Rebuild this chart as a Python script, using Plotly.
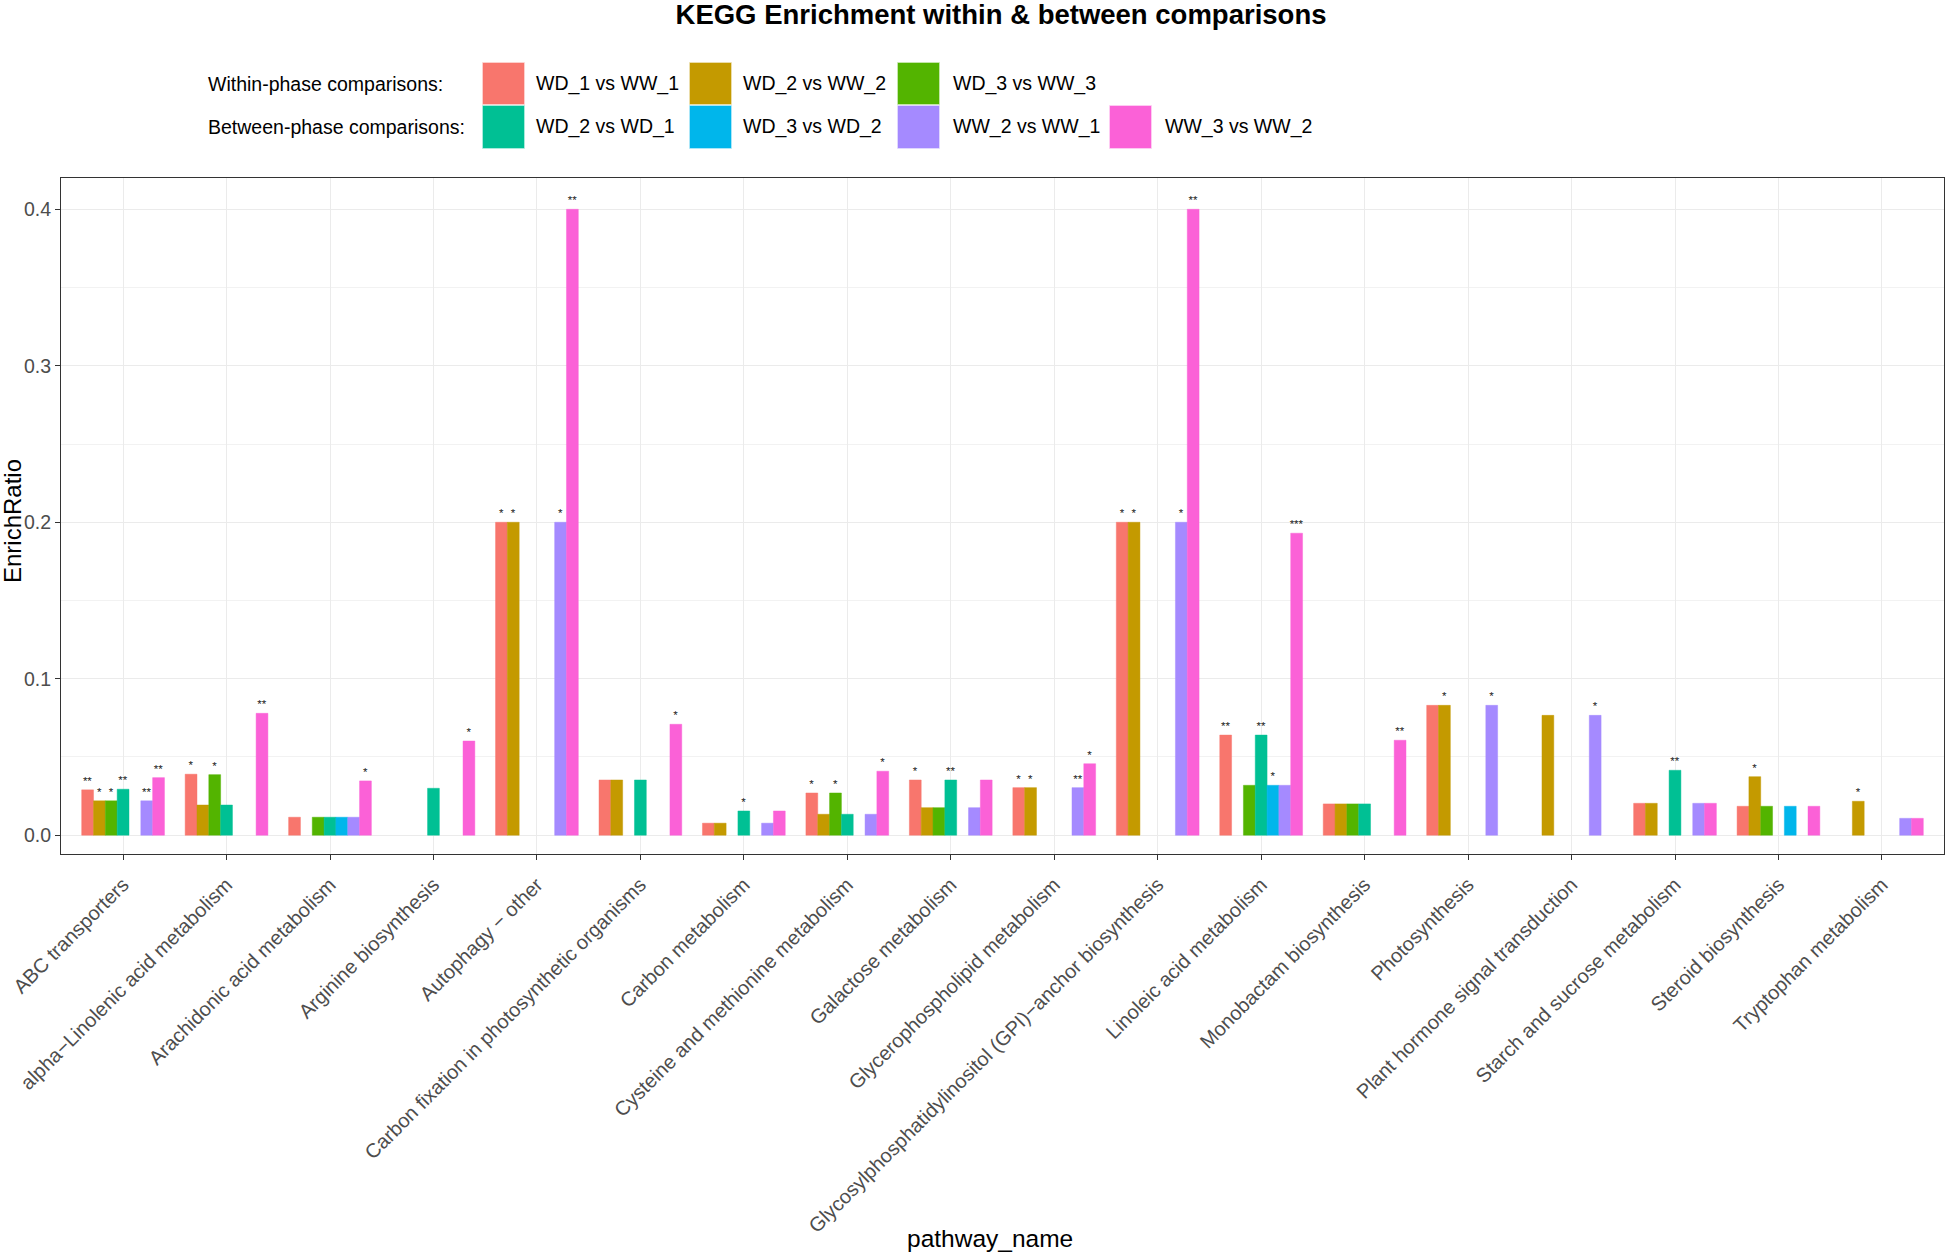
import plotly.graph_objects as go

# ---------------- data ----------------
categories = [
    "ABC transporters",
    "alpha\u2212Linolenic acid metabolism",
    "Arachidonic acid metabolism",
    "Arginine biosynthesis",
    "Autophagy \u2212 other",
    "Carbon fixation in photosynthetic organisms",
    "Carbon metabolism",
    "Cysteine and methionine metabolism",
    "Galactose metabolism",
    "Glycerophospholipid metabolism",
    "Glycosylphosphatidylinositol (GPI)\u2212anchor biosynthesis",
    "Linoleic acid metabolism",
    "Monobactam biosynthesis",
    "Photosynthesis",
    "Plant hormone signal transduction",
    "Starch and sucrose metabolism",
    "Steroid biosynthesis",
    "Tryptophan metabolism",
]

series_names = [
    "WD_1 vs WW_1", "WD_2 vs WW_2", "WD_3 vs WW_3",
    "WD_2 vs WD_1", "WD_3 vs WD_2", "WW_2 vs WW_1", "WW_3 vs WW_2",
]

wd1_vs_ww1 = [0.029, 0.039, 0.0115, None, 0.2, 0.0353, 0.0077, 0.027, 0.0353, 0.0304, 0.2, 0.064, 0.020, 0.083, None, 0.0204, 0.0185, None]
wd2_vs_ww2 = [0.022, 0.0193, None, None, 0.2, 0.0353, 0.0077, 0.0134, 0.0176, 0.0304, 0.2, None, 0.020, 0.083, 0.0766, 0.0204, 0.0374, 0.0217]
wd3_vs_ww3 = [0.022, 0.0387, 0.0115, None, None, None, None, 0.027, 0.0176, None, None, 0.0319, 0.020, None, None, None, 0.0185, None]
wd2_vs_wd1 = [0.0294, 0.0193, 0.0115, 0.030, None, 0.0353, 0.0155, 0.0134, 0.0353, None, None, 0.064, 0.020, None, None, 0.0415, None, None]
wd3_vs_wd2 = [None, None, 0.0115, None, None, None, None, None, None, None, None, 0.0319, None, None, None, None, 0.0185, None]
ww2_vs_ww1 = [0.022, None, 0.0115, None, 0.2, None, 0.0077, 0.0134, 0.0176, 0.0304, 0.2, 0.0319, None, 0.083, 0.0766, 0.0204, None, 0.0108]
ww3_vs_ww2 = [0.0368, 0.0779, 0.0347, 0.0602, 0.4, 0.0709, 0.0155, 0.0409, 0.0353, 0.0457, 0.4, 0.193, 0.0607, None, None, 0.0204, 0.0185, 0.0108]

sig_wd1_vs_ww1 = ["**", "*", "", "", "*", "", "", "*", "*", "*", "*", "**", "", "", "", "", "", ""]
sig_wd2_vs_ww2 = ["*", "", "", "", "*", "", "", "", "", "*", "*", "", "", "*", "", "", "*", "*"]
sig_wd3_vs_ww3 = ["*", "*", "", "", "", "", "", "*", "", "", "", "", "", "", "", "", "", ""]
sig_wd2_vs_wd1 = ["**", "", "", "", "", "", "*", "", "**", "", "", "**", "", "", "", "**", "", ""]
sig_wd3_vs_wd2 = ["", "", "", "", "", "", "", "", "", "", "", "*", "", "", "", "", "", ""]
sig_ww2_vs_ww1 = ["**", "", "", "", "*", "", "", "", "", "**", "*", "", "", "*", "*", "", "", ""]
sig_ww3_vs_ww2 = ["**", "**", "*", "*", "**", "*", "", "*", "", "*", "**", "***", "**", "", "", "", "", ""]

values = [wd1_vs_ww1, wd2_vs_ww2, wd3_vs_ww3, wd2_vs_wd1, wd3_vs_wd2, ww2_vs_ww1, ww3_vs_ww2]
sigs = [sig_wd1_vs_ww1, sig_wd2_vs_ww2, sig_wd3_vs_ww3, sig_wd2_vs_wd1, sig_wd3_vs_wd2, sig_ww2_vs_ww1, sig_ww3_vs_ww2]

colors = ["#F8766D", "#C49A00", "#53B400", "#00C094", "#00B6EB", "#A58AFF", "#FB61D7"]

legend_rows = [("Within-phase comparisons:", [0, 1, 2]),
               ("Between-phase comparisons:", [3, 4, 5, 6])]

FONT = "Liberation Sans, Arial, Helvetica, sans-serif"
W, H = 1946, 1254
L, R, T, B = 61, 2, 178, 400
PW, PH = W - L - R, H - T - B


def px_x(px):
    return (px - L) / PW


def px_y(py):
    return (H - B - py) / PH


def hex_rgba(h, a):
    h = h.lstrip("#")
    return "rgba(%d,%d,%d,%.2f)" % (int(h[0:2], 16), int(h[2:4], 16), int(h[4:6], 16), a)


fig = go.Figure()
for name, vals, sg, col in zip(series_names, values, sigs, colors):
    fig.add_trace(go.Bar(
        x=categories, y=vals, name=name,
        marker=dict(color=col, line=dict(color=hex_rgba(col, 0.45), width=1)),
        text=[s if v is not None else "" for s, v in zip(sg, vals)],
        textposition="outside", constraintext="none", cliponaxis=False,
        textfont=dict(size=11.5, color="#1a1a1a", family=FONT),
        showlegend=False,
    ))

# ---------------- manual legend ----------------
shapes = []
annotations = []
key_x = [483, 690, 898, 1110]
label_x = [534, 741, 951, 1163]
row_y = [(63, 104), (106, 148)]
for r, (row_label, idxs) in enumerate(legend_rows):
    y0, y1 = row_y[r]
    yc = (y0 + y1) / 2
    annotations.append(dict(x=px_x(206), y=px_y(yc), xref="paper", yref="paper",
                            text=row_label, showarrow=False, xanchor="left", yanchor="middle",
                            font=dict(size=19.5, color="#000000", family=FONT)))
    for c, si in enumerate(idxs):
        shapes.append(dict(type="rect", xref="paper", yref="paper",
                           x0=px_x(key_x[c]), x1=px_x(key_x[c] + 41),
                           y0=px_y(y1), y1=px_y(y0),
                           fillcolor=colors[si], line=dict(color=hex_rgba(colors[si], 0.45), width=1.5)))
        annotations.append(dict(x=px_x(label_x[c]), y=px_y(yc), xref="paper", yref="paper",
                                text=series_names[si], showarrow=False, xanchor="left", yanchor="middle",
                                font=dict(size=19.5, color="#000000", family=FONT)))

# axis titles
annotations.append(dict(x=px_x(990), y=px_y(1238), xref="paper", yref="paper", text="pathway_name",
                        showarrow=False, xanchor="center", yanchor="middle",
                        font=dict(size=24.5, color="#000000", family=FONT)))
annotations.append(dict(x=px_x(12), y=px_y(521), xref="paper", yref="paper", text="EnrichRatio",
                        showarrow=False, xanchor="center", yanchor="middle", textangle=-90,
                        font=dict(size=24, color="#000000", family=FONT)))

fig.update_layout(
    width=W, height=H,
    margin=dict(l=L, r=R, t=T, b=B, pad=0),
    paper_bgcolor="white", plot_bgcolor="white",
    barmode="group", bargap=0.2, bargroupgap=0,
    showlegend=False,
    font=dict(family=FONT),
    title=dict(text="<b>KEGG Enrichment within & between comparisons</b>",
               x=px_x(1001), xref="paper", xanchor="center",
               y=1 - 14 / H, yref="container", yanchor="middle",
               font=dict(size=27.5, color="#000000", family=FONT)),
    shapes=shapes,
    annotations=annotations,
)

fig.update_xaxes(
    type="category", range=[-0.6, len(categories) - 0.4],
    showgrid=True, gridcolor="#EBEBEB", gridwidth=1.2,
    showline=True, mirror=True, linecolor="#333333", linewidth=1.2,
    ticks="outside", ticklen=5, tickcolor="#333333", tickwidth=1.2,
    tickangle=-45, tickfont=dict(size=20, color="#4D4D4D", family=FONT),
    ticklabelstandoff=5,
    automargin=False, zeroline=False,
)
fig.update_yaxes(
    range=[-0.012, 0.42],
    tickvals=[0, 0.1, 0.2, 0.3, 0.4], ticktext=["0.0", "0.1", "0.2", "0.3", "0.4"],
    showgrid=True, gridcolor="#EBEBEB", gridwidth=1.2,
    minor=dict(tickvals=[0.05, 0.15, 0.25, 0.35], showgrid=True, gridcolor="#F2F2F2", gridwidth=0.7, ticks=""),
    showline=True, mirror=True, linecolor="#333333", linewidth=1.2,
    ticks="outside", ticklen=5, tickcolor="#333333", tickwidth=1.2,
    tickfont=dict(size=19.5, color="#4D4D4D", family=FONT),
    automargin=False, zeroline=False,
)

fig.write_html("out.html",
               config={"displayModeBar": False},
               post_script="document.body.style.margin='0';document.body.style.overflow='hidden';")
